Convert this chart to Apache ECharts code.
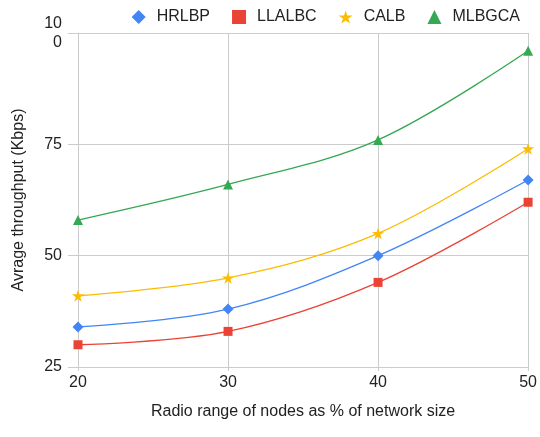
<!DOCTYPE html>
<html>
<head>
<meta charset="utf-8">
<script src="https://cdn.jsdelivr.net/npm/echarts@6/dist/echarts.min.js"></script>
<style>
  html, body { margin: 0; padding: 0; background: #fff; }
  #chart { width: 540px; height: 437px; }
</style>
</head>
<body>
<div id="chart"></div>
<script>
// Radio range of nodes (% of network size)
const radioRange = [20, 30, 40, 50];
// Average throughput (Kbps) per protocol
const hrlbp  = [34, 38, 50, 67];
const llalbc = [30, 33, 44, 62];
const calb   = [41, 45, 55, 74];
const mlbgca = [58, 66, 76, 96];
const yTicks = [25, 50, 75, 100];

const starPath = 'path://M50,0 L61.8,35.4 L100,35.4 L69.1,57.3 L80.9,92.7 L50,70.8 L19.1,92.7 L30.9,57.3 L0,35.4 L38.2,35.4 Z';

const FONT = 'Liberation Sans, Arial, sans-serif';
const FS = 16;

function pairs(vals) {
  return radioRange.map((x, i) => [x, vals[i]]);
}

function series(name, vals, color, symbol, size) {
  return {
    name: name,
    type: 'line',
    data: pairs(vals),
    smooth: 0.35,
    symbol: symbol,
    symbolSize: size,
    lineStyle: { color: color, width: 1.3 },
    itemStyle: { color: color },
    emphasis: { disabled: true }
  };
}

const chart = echarts.init(document.getElementById('chart'), null, { renderer: 'canvas' });
chart.setOption({
  animation: false,
  textStyle: { fontFamily: FONT },
  grid: { left: 78, right: 9, top: 33, bottom: 70 },
  legend: {
    top: 4,
    right: 15,
    itemGap: 22,
    itemWidth: 14,
    itemHeight: 14,
    textStyle: { fontFamily: FONT, fontSize: FS, color: '#222', padding: [0, 0, 0, 6] },
    data: [
      { name: 'HRLBP', icon: 'diamond' },
      { name: 'LLALBC', icon: 'rect' },
      { name: 'CALB', icon: starPath },
      { name: 'MLBGCA', icon: 'triangle' }
    ]
  },
  xAxis: {
    type: 'value',
    min: 20,
    max: 50,
    interval: 10,
    name: 'Radio range of nodes as % of network size',
    nameLocation: 'middle',
    nameGap: 37,
    nameTextStyle: { fontFamily: FONT, fontSize: FS, color: '#222' },
    axisLine: { show: false },
    axisTick: { show: true, length: 4, lineStyle: { color: '#ccc' } },
    axisLabel: { fontFamily: FONT, fontSize: FS, color: '#222', margin: 8 },
    splitLine: { show: true, lineStyle: { color: '#cccccc', width: 1 } }
  },
  yAxis: {
    type: 'value',
    min: yTicks[0],
    max: yTicks[yTicks.length - 1],
    interval: 25,
    name: 'Avrage throughput (Kbps)',
    nameLocation: 'middle',
    nameGap: 51,
    nameTextStyle: { fontFamily: FONT, fontSize: FS, color: '#222' },
    axisLine: { show: true, lineStyle: { color: '#cccccc' } },
    axisTick: { show: true, length: 10, lineStyle: { color: '#cccccc' } },
    axisLabel: {
      fontFamily: FONT, fontSize: FS, color: '#222', margin: 16,
      lineHeight: 19,
      formatter: v => (v === 100 ? '10\n0' : String(v))
    },
    splitLine: { show: true, lineStyle: { color: '#cccccc', width: 1 } }
  },
  series: [
    series('HRLBP', hrlbp, '#4285F4', 'diamond', 11),
    series('LLALBC', llalbc, '#EA4335', 'rect', 9),
    series('CALB', calb, '#FBBC04', starPath, 12),
    series('MLBGCA', mlbgca, '#34A853', 'triangle', 10)
  ]
});
</script>
</body>
</html>
